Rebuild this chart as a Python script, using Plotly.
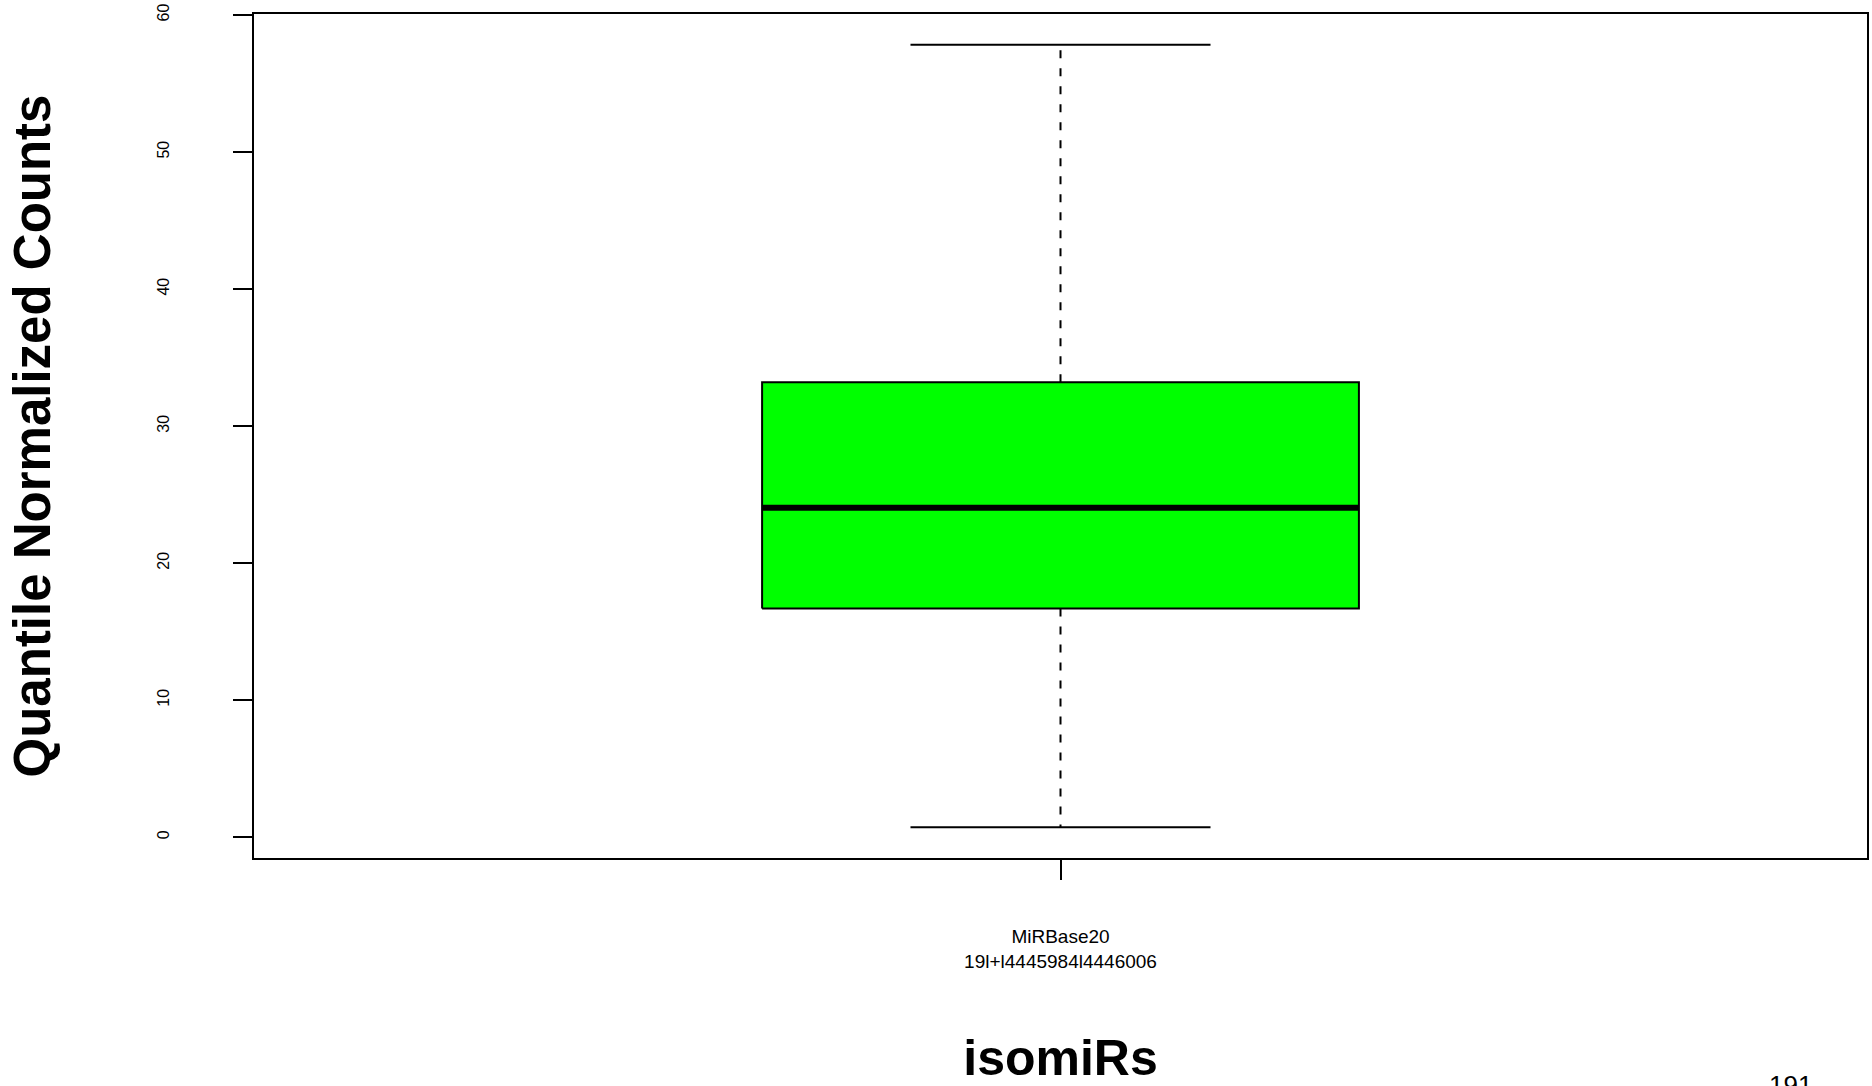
import plotly.graph_objects as go

# ---- data ----
categories = ["MiRBase20<br>19l+l4445984l4446006"]
x_pos = [1]
lower_whisker = [0.73]
q1 = [16.7]
median = [24.05]
q3 = [33.2]
upper_whisker = [57.83]
y_ticks = [0, 10, 20, 30, 40, 50, 60]
corner_note = "191"

BOX_HALF = 0.185
CAP_HALF = 0.093
FONT = "Liberation Sans, Arial, Helvetica, sans-serif"

W, H = 1872, 1086
L, R, T, B = 254, 5, 14, 228
PW, PH = W - L - R, H - T - B

fig = go.Figure()
for i, xc in enumerate(x_pos):
    # dashed whiskers
    fig.add_trace(go.Scatter(x=[xc, xc], y=[q3[i], upper_whisker[i]], mode="lines",
                             line=dict(color="black", width=2, dash="8px,10px"),
                             hoverinfo="skip", showlegend=False))
    fig.add_trace(go.Scatter(x=[xc, xc], y=[q1[i], lower_whisker[i]], mode="lines",
                             line=dict(color="black", width=2, dash="8px,10px"),
                             hoverinfo="skip", showlegend=False))
    # caps
    for v in (upper_whisker[i], lower_whisker[i]):
        fig.add_trace(go.Scatter(x=[xc - CAP_HALF, xc + CAP_HALF], y=[v, v], mode="lines",
                                 line=dict(color="black", width=2),
                                 hoverinfo="skip", showlegend=False))
    # box
    fig.add_trace(go.Scatter(
        x=[xc - BOX_HALF, xc + BOX_HALF, xc + BOX_HALF, xc - BOX_HALF, xc - BOX_HALF],
        y=[q1[i], q1[i], q3[i], q3[i], q1[i]],
        mode="lines", fill="toself", fillcolor="#00FF00",
        line=dict(color="black", width=2), showlegend=False, hoverinfo="skip"))
    # median
    fig.add_trace(go.Scatter(x=[xc - BOX_HALF, xc + BOX_HALF], y=[median[i], median[i]],
                             mode="lines", line=dict(color="black", width=6),
                             showlegend=False, hoverinfo="skip"))

fig.update_layout(
    width=W, height=H,
    margin=dict(l=L, r=R, t=T, b=B, autoexpand=False),
    paper_bgcolor="white", plot_bgcolor="white",
    font=dict(family=FONT, color="black"),
    showlegend=False,
    xaxis=dict(
        range=[0.5, 1.5], tickmode="array", tickvals=x_pos, ticktext=categories,
        showgrid=False, zeroline=False,
        showline=True, linecolor="black", linewidth=2, mirror=True,
        ticks="outside", ticklen=20, tickwidth=2, tickcolor="black",
        tickfont=dict(size=19, family=FONT), ticklabelstandoff=40,
        title=dict(text="<b>isomiRs</b>", font=dict(size=50, family=FONT), standoff=84),
        automargin=False,
    ),
    yaxis=dict(
        range=[-1.51, 60.07], tickmode="array", tickvals=y_ticks,
        ticktext=[str(v) for v in y_ticks],
        showgrid=False, zeroline=False,
        showline=True, linecolor="black", linewidth=2, mirror=True,
        ticks="outside", ticklen=19, tickwidth=2, tickcolor="black",
        tickangle=-90, tickfont=dict(size=16, family=FONT), ticklabelstandoff=58,
        ticklabeloverflow="allow",
        title=dict(text="<b>Quantile Normalized Counts</b>", font=dict(size=51, family=FONT), standoff=88),
        automargin=False,
    ),
    annotations=[dict(text=corner_note, xref="paper", yref="paper",
                      x=(1790 - L) / PW, y=-(1068 - (H - B)) / PH,
                      xanchor="center", yanchor="top", showarrow=False,
                      font=dict(size=26, family=FONT, color="black"))],
)

fig.write_html("out.html",
               config={"displayModeBar": False},
               post_script="document.body.style.margin='0';document.body.style.overflow='hidden';")
